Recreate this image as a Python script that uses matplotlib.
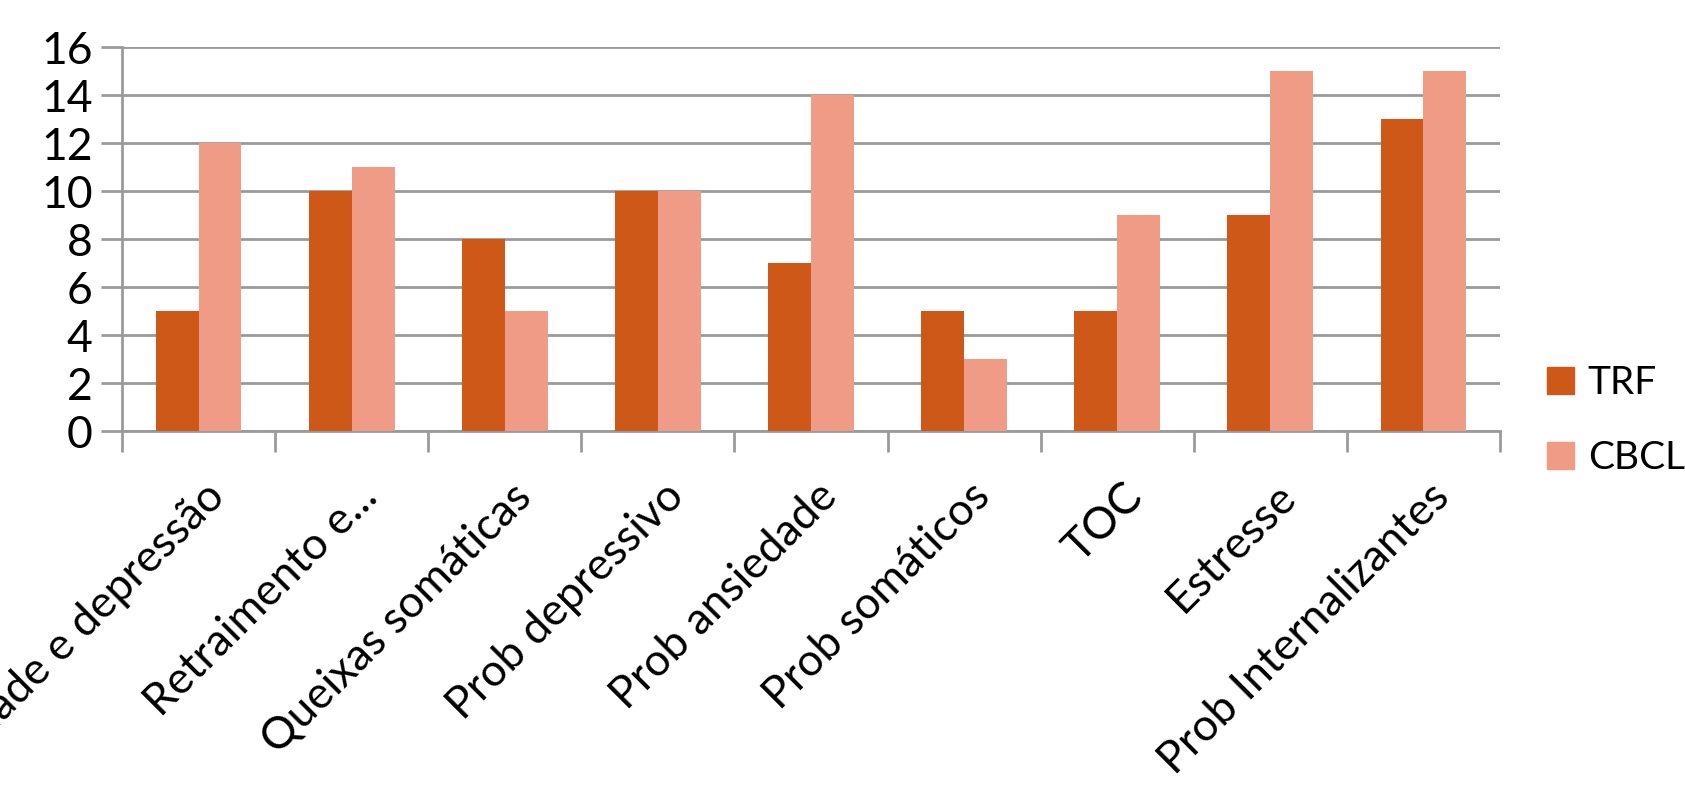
import numpy as np
import matplotlib
matplotlib.use('Agg')
import matplotlib.pyplot as plt
import matplotlib.transforms as mtransforms
from matplotlib.patches import Patch

categories = ['Ansiedade e depressão', 'Retraimento e...', 'Queixas somáticas',
              'Prob depressivo', 'Prob ansiedade', 'Prob somáticos', 'TOC',
              'Estresse', 'Prob Internalizantes']
trf = [5, 10, 8, 10, 7, 5, 5, 9, 13]
cbcl = [12, 11, 5, 10, 14, 3, 9, 15, 15]
series_names = ['TRF', 'CBCL']
colors = ['#CE5817', '#F09B86']

plt.rcParams['font.family'] = ['Lato', 'DejaVu Sans']
grey = '#9A9A9A'

fig = plt.figure(figsize=(16.85, 8.05), dpi=100)
ax = fig.add_axes([122 / 1685, 1 - 431 / 805, (1500 - 122) / 1685, (431 - 47) / 805])

x = np.arange(len(categories))
w = 0.28
ax.bar(x - w / 2, trf, w, color=colors[0], zorder=3)
ax.bar(x + w / 2, cbcl, w, color=colors[1], zorder=3)

ax.set_xlim(-0.5, len(categories) - 0.5)
ax.set_ylim(0, 16)
ax.set_yticks(range(0, 17, 2))
ax.yaxis.grid(True, color=grey, linewidth=2, zorder=0)
ax.tick_params(axis='y', length=15, width=2, color=grey, labelsize=32, pad=6)

ax.set_xticks(x)
ax.set_xticklabels(categories, rotation=45, ha='right', va='top',
                   rotation_mode='anchor', fontsize=32)
ax.tick_params(axis='x', which='major', length=0, pad=22)
offset = mtransforms.ScaledTranslation(5 / 100, -14 / 100, fig.dpi_scale_trans)
for lbl in ax.get_xticklabels():
    lbl.set_transform(lbl.get_transform() + offset)
ax.set_xticks(np.arange(-0.5, len(categories)), minor=True)
ax.tick_params(axis='x', which='minor', length=15, width=2, color=grey)

for s in ['top', 'right']:
    ax.spines[s].set_visible(False)
for s in ['left', 'bottom']:
    ax.spines[s].set_color(grey)
    ax.spines[s].set_linewidth(2)

handles = [Patch(color=c) for c in colors]
fig.legend(handles, series_names, loc='upper left', bbox_to_anchor=(1547 / 1685, 1 - 365 / 805),
           frameon=False, fontsize=28, handlelength=0.7, handleheight=0.7,
           handletextpad=0.35, labelspacing=1.0, borderaxespad=0, borderpad=0)

fig.savefig('out.png', dpi=100)
